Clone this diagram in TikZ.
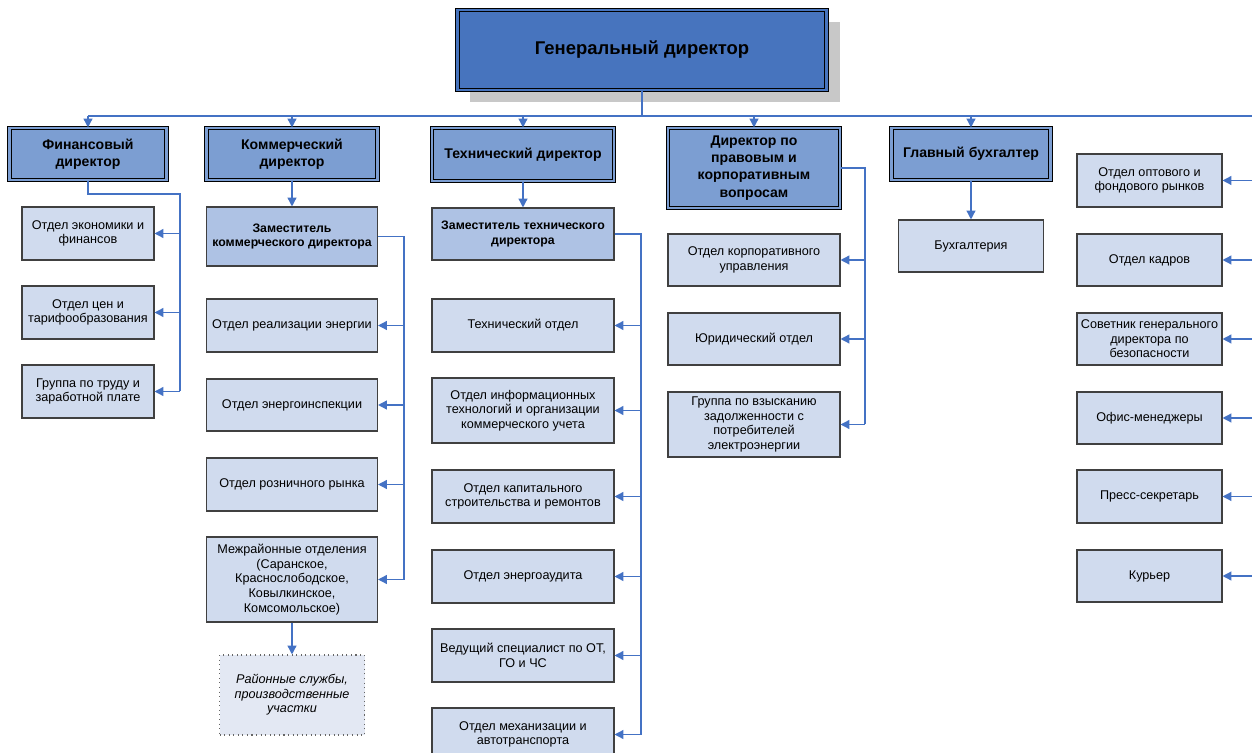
\documentclass[tikz,border=0pt]{standalone}
\usepackage{fontspec}
\setmainfont{Liberation Sans}
\usetikzlibrary{arrows.meta}
\definecolor{gdblue}{RGB}{71,116,190}
\definecolor{dirblue}{RGB}{124,158,210}
\definecolor{zamblue}{RGB}{174,194,228}
\definecolor{otdblue}{RGB}{208,219,238}
\definecolor{slblue}{RGB}{227,232,243}
\definecolor{linkblue}{RGB}{68,114,196}
\definecolor{shadowgray}{RGB}{200,200,200}
\begin{document}
\begin{tikzpicture}[x=0.02cm,y=-0.02cm,>={Triangle[length=5pt,width=5pt]},
    link/.style={draw=linkblue,line width=0.8pt},
    wh/.style 2 args={minimum width=#1*0.02cm,minimum height=#2*0.02cm},
    gdbox/.style={draw=black,line width=0.6pt,double=gdblue,double distance=1.2pt,fill=gdblue,
        font=\fontsize{10.5}{12.5}\selectfont\bfseries,inner sep=1pt},
    dirbox/.style={draw=black,line width=0.6pt,double=dirblue,double distance=1.2pt,fill=dirblue,
        align=center,font=\fontsize{8}{9.8}\selectfont\bfseries,inner sep=1pt},
    zambox/.style={draw=black!75,line width=0.6pt,fill=zamblue,
        align=center,font=\fontsize{7}{8.5}\selectfont\bfseries,inner sep=1pt},
    otdbox/.style={draw=black!75,line width=0.6pt,fill=otdblue,
        align=center,font=\fontsize{7.2}{8.3}\selectfont,inner sep=1pt},
    slbox/.style={draw=black!60,line width=0.6pt,dotted,fill=slblue,
        align=center,font=\fontsize{7.2}{8.3}\selectfont\itshape,inner sep=1pt}]
    \useasboundingbox (0,0) rectangle (1252,753);
    % general director with shadow
    \fill[shadowgray] (470,22) rectangle (840,102);
    \node[gdbox,wh={369}{80}] (gen) at (642,50) {Генеральный директор};
    % directors
    \node[dirbox,wh={157}{52}] (fin) at (88,154) {Финансовый\\директор};
    \node[dirbox,wh={171}{52}] (kom) at (292,154) {Коммерческий\\директор};
    \node[dirbox,wh={182}{53}] (teh) at (523,154.5) {Технический директор};
    \node[dirbox,wh={172}{80}] (prav) at (754,168) {Директор по\\правовым и\\корпоративным\\вопросам};
    \node[dirbox,wh={159}{52}] (glb) at (971,154) {Главный бухгалтер};
    % main bus
    \coordinate (busL) at (88,116);
    \coordinate (busR) at (1252,116);
    \draw[link] (gen.south) -- (gen.south |- busL);
    \draw[link] (busL) -- (busR);
    \foreach \n in {fin,kom,teh,prav,glb}
        \draw[link,->] (\n.north |- busL) -- (\n.north);
    % finance
    \node[otdbox,wh={132}{53}] (ek) at (88,233.5) {Отдел экономики и\\финансов};
    \node[otdbox,wh={132}{53}] (cen) at (88,312.5) {Отдел цен и\\тарифообразования};
    \node[otdbox,wh={132}{53}] (trud) at (88,391.5) {Группа по труду и\\заработной плате};
    \coordinate (finbus) at (180,194);
    \draw[link] (fin.south) |- (finbus) -- (finbus |- trud.east);
    \foreach \n in {ek,cen,trud}
        \draw[link,->] (finbus |- \n.east) -- (\n.east);
    % commercial
    \node[zambox,wh={171}{59}] (zamk) at (292,236.5) {Заместитель\\коммерческого директора};
    \node[otdbox,wh={171}{53}] (real) at (292,325.5) {Отдел реализации энергии};
    \node[otdbox,wh={171}{52}] (insp) at (292,405) {Отдел энергоинспекции};
    \node[otdbox,wh={171}{53}] (rozn) at (292,484.5) {Отдел розничного рынка};
    \node[otdbox,wh={171}{85}] (mezh) at (292,579.5) {Межрайонные отделения\\(Саранское,\\Краснослободское,\\Ковылкинское,\\Комсомольское)};
    \node[slbox,wh={145}{80}] (rsl) at (292,695) {Районные службы,\\производственные\\участки};
    \draw[link,->] (kom.south) -- (zamk.north);
    \draw[link,->] (mezh.south) -- (rsl.north);
    \coordinate (kombus) at (404,236.5);
    \draw[link] (zamk.east) -- (kombus) -- (kombus |- mezh.east);
    \foreach \n in {real,insp,rozn,mezh}
        \draw[link,->] (kombus |- \n.east) -- (\n.east);
    % technical
    \node[zambox,wh={182}{52}] (zamt) at (523,234) {Заместитель технического\\директора};
    \node[otdbox,wh={182}{53}] (teho) at (523,325.5) {Технический отдел};
    \node[otdbox,wh={182}{65}] (it) at (523,410.5) {Отдел информационных\\технологий и организации\\коммерческого учета};
    \node[otdbox,wh={182}{53}] (kap) at (523,496.5) {Отдел капитального\\строительства и ремонтов};
    \node[otdbox,wh={182}{53}] (aud) at (523,576.5) {Отдел энергоаудита};
    \node[otdbox,wh={182}{53}] (ot) at (523,655.5) {Ведущий специалист по ОТ,\\ГО и ЧС};
    \node[otdbox,wh={182}{53}] (meh) at (523,734.5) {Отдел механизации и\\автотранспорта};
    \draw[link,->] (teh.south) -- (zamt.north);
    \coordinate (tehbus) at (641,234);
    \draw[link] (zamt.east) -- (tehbus) -- (tehbus |- meh.east);
    \foreach \n in {teho,it,kap,aud,ot,meh}
        \draw[link,->] (tehbus |- \n.east) -- (\n.east);
    % legal
    \node[otdbox,wh={172}{52}] (korp) at (754,260) {Отдел корпоративного\\управления};
    \node[otdbox,wh={172}{52}] (yur) at (754,339) {Юридический отдел};
    \node[otdbox,wh={172}{65}] (dolg) at (754,424.5) {Группа по взысканию\\задолженности с\\потребителей\\электроэнергии};
    \coordinate (pravbus) at (865,168);
    \draw[link] (prav.east) -- (pravbus) -- (pravbus |- dolg.east);
    \foreach \n in {korp,yur,dolg}
        \draw[link,->] (pravbus |- \n.east) -- (\n.east);
    % chief accountant
    \node[otdbox,wh={145}{52}] (buh) at (971,246) {Бухгалтерия};
    \draw[link,->] (glb.south) -- (buh.north);
    % right column
    \node[otdbox,wh={145}{53}] (opt) at (1149.5,180.5) {Отдел оптового и\\фондового рынков};
    \node[otdbox,wh={145}{52}] (kadr) at (1149.5,260) {Отдел кадров};
    \node[otdbox,wh={145}{52}] (sov) at (1149.5,339) {Советник генерального\\директора по\\безопасности};
    \node[otdbox,wh={145}{52}] (ofis) at (1149.5,418) {Офис-менеджеры};
    \node[otdbox,wh={145}{53}] (press) at (1149.5,496.5) {Пресс-секретарь};
    \node[otdbox,wh={145}{52}] (kur) at (1149.5,576) {Курьер};
    \foreach \n in {opt,kadr,sov,ofis,press,kur}
        \draw[link,->] (busR |- \n.east) -- (\n.east);
\end{tikzpicture}
\end{document}
